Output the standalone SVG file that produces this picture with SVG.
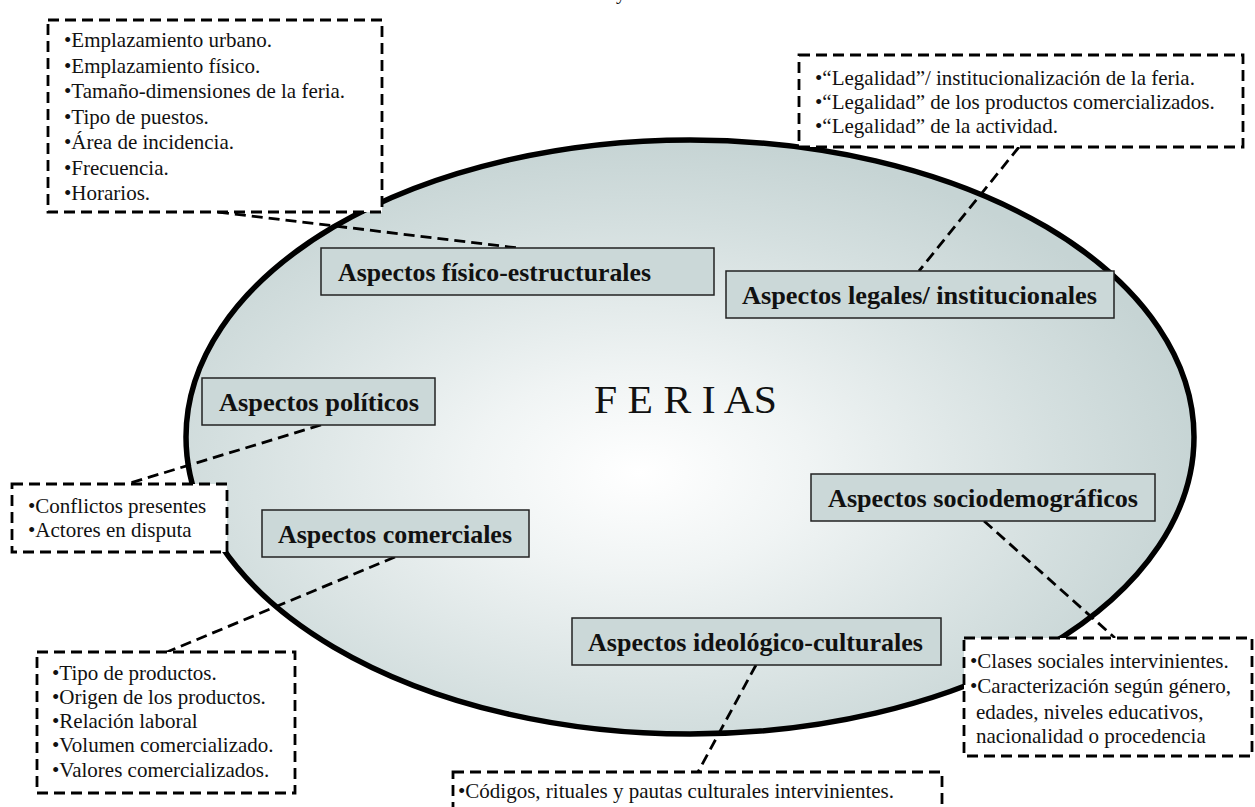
<svg xmlns="http://www.w3.org/2000/svg" width="1255" height="807" viewBox="0 0 1255 807">
<style>
.lbl rect{fill:#cbd8d8;stroke:#222;stroke-width:1.5}
.lbl text{font-family:"Liberation Serif","Times New Roman",serif;font-weight:bold;font-size:25px;fill:#111}
.note rect{fill:#fff;stroke:#000;stroke-width:2.8;stroke-dasharray:11 6}
.note text{font-family:"Liberation Serif","Times New Roman",serif;font-size:21px;fill:#111}
#connectors line{stroke:#000;stroke-width:2.8;stroke-dasharray:11 6;fill:none}
</style>
<defs>
<radialGradient id="g" cx="0.45" cy="0.56" r="0.56">
<stop offset="0" stop-color="#ffffff"/>
<stop offset="0.3" stop-color="#f0f4f4"/>
<stop offset="0.75" stop-color="#d4dfdf"/>
<stop offset="1" stop-color="#c6d4d4"/>
</radialGradient>
</defs>
<rect width="1255" height="807" fill="#fff"/>
<text x="616" y="-1" font-family="Liberation Serif, serif" font-size="20" fill="#111">y</text>
<g id="ferias">
<ellipse cx="690" cy="437" rx="504" ry="297" fill="url(#g)" stroke="#000" stroke-width="5.5"/>
<text x="594" y="413" font-family="Liberation Serif, serif" font-size="39" fill="#111" textLength="183" lengthAdjust="spacingAndGlyphs">F E R I AS</text>
</g>
<g id="connectors">
<line x1="218" y1="212" x2="518" y2="248"/>
<line x1="1019" y1="147" x2="919" y2="271"/>
<line x1="321" y1="425" x2="127" y2="484"/>
<line x1="395" y1="557" x2="167" y2="652"/>
<line x1="984" y1="521" x2="1115" y2="638"/>
<line x1="756" y1="665" x2="698" y2="772"/>
</g>
<g id="fisico" class="lbl"><rect x="321" y="248" width="393" height="47"/><text x="338" y="281" textLength="313" lengthAdjust="spacingAndGlyphs">Aspectos físico-estructurales</text></g>
<g id="legales" class="lbl"><rect x="726" y="271" width="388" height="47"/><text x="742" y="304" textLength="355" lengthAdjust="spacingAndGlyphs">Aspectos legales/ institucionales</text></g>
<g id="politicos" class="lbl"><rect x="202" y="378" width="233" height="47"/><text x="219" y="411" textLength="200" lengthAdjust="spacingAndGlyphs">Aspectos políticos</text></g>
<g id="comerciales" class="lbl"><rect x="262" y="510" width="267" height="47"/><text x="278" y="543" textLength="234" lengthAdjust="spacingAndGlyphs">Aspectos comerciales</text></g>
<g id="sociodemograficos" class="lbl"><rect x="811" y="474" width="344" height="47"/><text x="828" y="507" textLength="310" lengthAdjust="spacingAndGlyphs">Aspectos sociodemográficos</text></g>
<g id="ideologico" class="lbl"><rect x="572" y="618" width="369" height="47"/><text x="588" y="651" textLength="335" lengthAdjust="spacingAndGlyphs">Aspectos ideológico-culturales</text></g>
<g id="nota-fisico" class="note"><rect x="48" y="20" width="334" height="192"/>
<text x="64" y="47">•Emplazamiento urbano.</text>
<text x="64" y="72.5">•Emplazamiento físico.</text>
<text x="64" y="98">•Tamaño-dimensiones de la feria.</text>
<text x="64" y="123.5">•Tipo de puestos.</text>
<text x="64" y="149">•Área de incidencia.</text>
<text x="64" y="174.5">•Frecuencia.</text>
<text x="64" y="200">•Horarios.</text>
</g>
<g id="nota-legales" class="note"><rect x="799" y="55" width="444" height="92"/>
<text x="815" y="85">•“Legalidad”/ institucionalización de la feria.</text>
<text x="815" y="109">•“Legalidad” de los productos comercializados.</text>
<text x="815" y="133">•“Legalidad” de la actividad.</text>
</g>
<g id="nota-politicos" class="note"><rect x="12" y="484" width="215" height="68"/>
<text x="28" y="513">•Conflictos presentes</text>
<text x="28" y="537">•Actores en disputa</text>
</g>
<g id="nota-comerciales" class="note"><rect x="37" y="652" width="258" height="141"/>
<text x="52" y="680">•Tipo de productos.</text>
<text x="52" y="704">•Origen de los productos.</text>
<text x="52" y="728">•Relación laboral</text>
<text x="52" y="752">•Volumen comercializado.</text>
<text x="52" y="777">•Valores comercializados.</text>
</g>
<g id="nota-socio" class="note"><rect x="964" y="638" width="288" height="118"/>
<text x="970" y="668">•Clases sociales intervinientes.</text>
<text x="970" y="693">•Caracterización según género,</text>
<text x="976" y="719">edades, niveles educativos,</text>
<text x="976" y="743">nacionalidad o procedencia</text>
</g>
<g id="nota-ideologico" class="note"><rect x="453" y="772" width="489" height="50"/>
<text x="458" y="798">•Códigos, rituales y pautas culturales intervinientes.</text>
</g>
</svg>
